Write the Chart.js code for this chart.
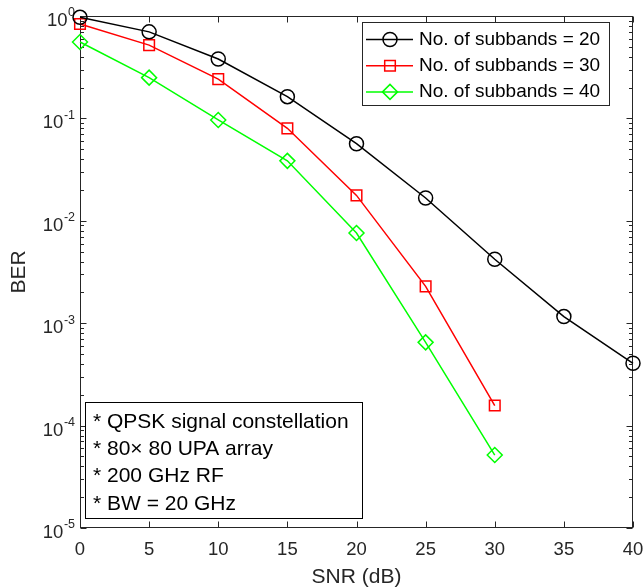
<!DOCTYPE html>
<html><head><meta charset="utf-8">
<script src="https://cdn.jsdelivr.net/npm/chart.js@4/dist/chart.umd.min.js"></script>
<style>html,body{margin:0;padding:0;background:#fff}#wrap{width:644px;height:588px}</style>
</head><body><div id="wrap"><canvas id="c" width="644" height="588"></canvas></div>
<script>
// ---- data ----
const snr = [0, 5, 10, 15, 20, 25, 30, 35, 40];
const ber20 = [0.97, 0.70, 0.38, 0.163, 0.0566, 0.0167, 0.00421, 0.00116, 0.000406];
const ber30 = [0.835, 0.52, 0.242, 0.080, 0.0177, 0.00229, 0.000157];
const ber40 = [0.557, 0.25, 0.0965, 0.0385, 0.0076, 0.00065, 0.0000516];
const seriesLabels = ['No. of subbands = 20', 'No. of subbands = 30', 'No. of subbands = 40'];
const xTicks = [0, 5, 10, 15, 20, 25, 30, 35, 40];
const yDecades = [1e-5, 1e-4, 1e-3, 1e-2, 1e-1, 1];
const yExponents = ['-5', '-4', '-3', '-2', '-1', '0'];
const noteLines = ['* QPSK signal constellation', '* 80\u00d7 80 UPA array', '* 200 GHz RF', '* BW = 20 GHz'];
const xTitle = 'SNR (dB)';
const yTitle = 'BER';

const F = '"Liberation Sans", Arial, Helvetica, sans-serif';
const AX = '#262626';
function pts(arr){ return arr.map((y, i) => ({x: snr[i], y: y})); }

const styles = [
  {color:'#000000', shape:'circle', r:7},
  {color:'#ff0000', shape:'rect', r:7.5},
  {color:'#00ff00', shape:'rectRot', r:7.5}
];
const seriesData = [ber20, ber30, ber40];
const LW = 1.5;

const datasets = seriesData.map((d, i) => ({
  label: seriesLabels[i],
  data: pts(d),
  borderColor: styles[i].color,
  borderWidth: LW,
  pointStyle: styles[i].shape,
  pointRadius: styles[i].r,
  pointBorderColor: styles[i].color,
  pointBackgroundColor: 'rgba(0,0,0,0)',
  pointBorderWidth: LW,
  tension: 0,
  fill: false,
  clip: false
}));

const axesPlugin = {
  id: 'axesBox',
  beforeDatasetsDraw(chart){
    const {ctx, chartArea: a, scales: {x, y}} = chart;
    ctx.save();
    ctx.strokeStyle = AX;
    ctx.lineWidth = 1;
    const L = Math.round(a.left) + 0.5, R = Math.round(a.right) - 0.5;
    const T = Math.round(a.top) + 0.5, B = Math.round(a.bottom) - 0.5;
    ctx.strokeRect(L, T, R - L, B - T);
    ctx.beginPath();
    const maj = 6, mnr = 3.5;
    xTicks.forEach(v => {
      const px = Math.round(x.getPixelForValue(v)) + 0.5;
      ctx.moveTo(px, B); ctx.lineTo(px, B - maj);
      ctx.moveTo(px, T); ctx.lineTo(px, T + maj);
    });
    yDecades.forEach(v => {
      const py = Math.round(y.getPixelForValue(v)) + 0.5;
      ctx.moveTo(L, py); ctx.lineTo(L + maj, py);
      ctx.moveTo(R, py); ctx.lineTo(R - maj, py);
      if (v < 1) {
        for (let k = 2; k <= 9; k++) {
          const pm = Math.round(y.getPixelForValue(v * k)) + 0.5;
          ctx.moveTo(L, pm); ctx.lineTo(L + mnr, pm);
          ctx.moveTo(R, pm); ctx.lineTo(R - mnr, pm);
        }
      }
    });
    ctx.stroke();
    // y tick labels: 10 with superscript exponent
    ctx.fillStyle = AX;
    ctx.textBaseline = 'middle';
    ctx.textAlign = 'left';
    yDecades.forEach((v, i) => {
      const py = y.getPixelForValue(v);
      const exp = yExponents[i];
      ctx.font = '12.5px ' + F;
      const ew = ctx.measureText(exp).width;
      ctx.font = '18.5px ' + F;
      const bw = ctx.measureText('10').width;
      const right = a.left - 5;
      const bx = right - ew - bw - 0.5;
      ctx.fillText('10', bx, py + 5);
      ctx.font = '12.5px ' + F;
      ctx.fillText(exp, right - ew, py - 3);
    });
    ctx.restore();
  },
  afterDatasetsDraw(chart){
    const {ctx, chartArea: a} = chart;
    ctx.save();
    // legend
    const lx0 = a.left + 282, ly0 = a.top + 6, lw = 247, lh = 83;
    ctx.fillStyle = '#fff';
    ctx.fillRect(lx0, ly0, lw, lh);
    ctx.strokeStyle = AX; ctx.lineWidth = 1;
    ctx.strokeRect(Math.round(lx0) + 0.5, Math.round(ly0) + 0.5, lw, lh);
    chart.data.datasets.forEach((ds, i) => {
      const yy = ly0 + 17.5 + i * 26.2;
      ctx.strokeStyle = ds.borderColor; ctx.lineWidth = LW;
      ctx.beginPath(); ctx.moveTo(lx0 + 4, yy); ctx.lineTo(lx0 + 51, yy); ctx.stroke();
      ctx.fillStyle = 'rgba(0,0,0,0)';
      Chart.helpers.drawPoint(ctx, {pointStyle: ds.pointStyle, rotation: 0, radius: ds.pointRadius, borderWidth: LW}, lx0 + 28, yy);
      ctx.fillStyle = '#000';
      ctx.font = '19px ' + F;
      ctx.textBaseline = 'middle'; ctx.textAlign = 'left';
      ctx.fillText(ds.label, lx0 + 57, yy);
    });
    // annotation box
    const ax0 = a.left + 5, ay0 = 402, aw = 277, ah = 116;
    ctx.fillStyle = '#fff';
    ctx.fillRect(ax0, ay0, aw, ah);
    ctx.strokeStyle = '#000'; ctx.lineWidth = 1;
    ctx.strokeRect(Math.round(ax0) + 0.5, ay0 + 0.5, aw, ah);
    ctx.fillStyle = '#000';
    ctx.font = '21px ' + F;
    ctx.textBaseline = 'middle'; ctx.textAlign = 'left';
    noteLines.forEach((t, i) => ctx.fillText(t, ax0 + 8, ay0 + 20 + i * 27.3));
    ctx.restore();
  }
};

new Chart(document.getElementById('c'), {
  type: 'line',
  data: { datasets: datasets },
  plugins: [axesPlugin],
  options: {
    responsive: false,
    animation: false,
    devicePixelRatio: 1,
    layout: { padding: { top: 16, right: 11, left: 0, bottom: 0 } },
    plugins: { legend: { display: false }, tooltip: { enabled: false } },
    scales: {
      x: {
        type: 'linear', min: 0, max: 40, position: 'bottom',
        afterBuildTicks: s => { s.ticks = xTicks.map(v => ({value: v})); },
        ticks: { color: AX, font: { family: F, size: 18.5 }, padding: 11, maxRotation: 0, autoSkip: false },
        grid: { display: false, drawTicks: false },
        border: { display: false },
        title: { display: true, text: xTitle, color: AX, font: { family: F, size: 21, lineHeight: 1 }, padding: { top: 0, bottom: 0 } },
        afterFit: s => { s.height = 60; s.paddingLeft = 0; s.paddingRight = 0; }
      },
      y: {
        type: 'logarithmic', min: 1e-5, max: 1, position: 'left',
        afterBuildTicks: s => { s.ticks = yDecades.map(v => ({value: v, major: true})); },
        ticks: { display: false, autoSkip: false },
        grid: { display: false, drawTicks: false },
        border: { display: false },
        title: { display: true, text: yTitle, color: AX, font: { family: F, size: 21 }, padding: { top: 7, bottom: 0 } },
        afterFit: s => { s.width = 80; s.paddingTop = 0; s.paddingBottom = 0; }
      }
    }
  }
});
</script>
</body></html>
